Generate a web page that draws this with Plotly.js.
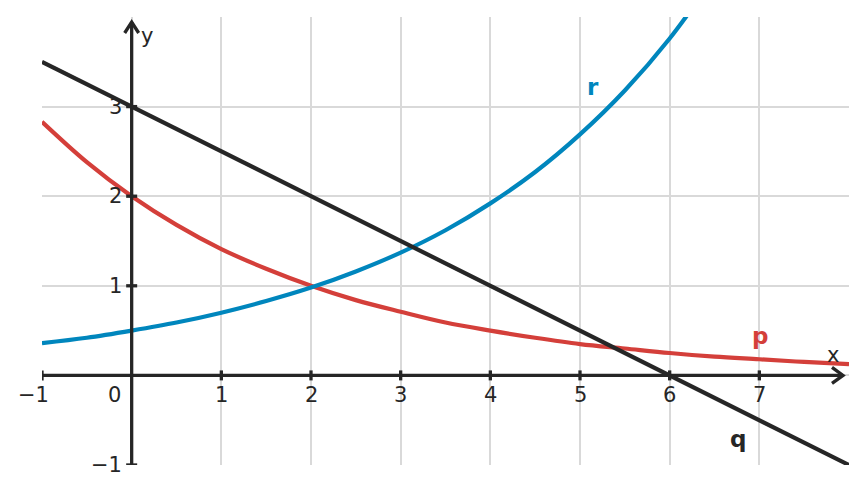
<!DOCTYPE html>
<html><head><meta charset="utf-8">
<script src="https://cdn.plot.ly/plotly-3.0.1.min.js"></script>
<style>body{margin:0;padding:0;background:#fff}#plot{width:867px;height:494px}</style>
</head><body><div id="plot"></div>
<script>
// Data
const xs = [-1,-0.5,0,0.5,1,1.5,2,2.5,3,3.5,4,4.5,5,5.5,6,6.5,7,7.5,8];
const pVals = [2.83,2.38,2.0,1.68,1.41,1.19,1.0,0.84,0.71,0.59,0.5,0.42,0.35,0.30,0.25,0.21,0.18,0.15,0.125];
const qVals = [3.5,3.25,3.0,2.75,2.5,2.25,2.0,1.75,1.5,1.25,1.0,0.75,0.5,0.25,0.0,-0.25,-0.5,-0.75,-1.0];
const rX = [-1,-0.5,0,0.5,1,1.5,2,2.5,3,3.5,4,4.5,5,5.5,6,6.5];
const rVals = [0.36,0.42,0.5,0.59,0.70,0.83,0.98,1.16,1.37,1.62,1.92,2.27,2.69,3.18,3.76,4.45];
const xTicks = [-1,0,1,2,3,4,5,6,7];
const xTickText = ['−1','0','1','2','3','4','5','6','7'];
const yTicks = [-1,1,2,3];
const yTickText = ['−1','1','2','3'];
const curveLabels = [
  {name:'r', x:5.15, y:3.22, color:'#0086BD'},
  {name:'p', x:7.01, y:0.44, color:'#D43F3A'},
  {name:'q', x:6.76, y:-0.71, color:'#262626'}
];

const xRange = [-1, 8], yRange = [-1, 4];
const ink = '#262626';
const font = {family:'DejaVu Sans, sans-serif', size:21, color:ink};

const traces = [
  {x:xs, y:pVals, mode:'lines', line:{color:'#D43F3A', width:4.2, shape:'spline'}, hoverinfo:'skip'},
  {x:rX, y:rVals, mode:'lines', line:{color:'#0086BD', width:4.2, shape:'spline'}, hoverinfo:'skip'},
  {x:xs, y:qVals, mode:'lines', line:{color:ink, width:4.2}, hoverinfo:'skip'}
];

const ux = (xRange[1]-xRange[0])/807, uy = (yRange[1]-yRange[0])/448; // data units per pixel
const shapes = [];
const xEnd = xRange[1] - 6*ux, yEnd = yRange[1] - 5*uy;
shapes.push({type:'line', xref:'x', yref:'y', x0:xRange[0], x1:xEnd, y0:0, y1:0, line:{color:ink, width:3.3}});
shapes.push({type:'line', xref:'x', yref:'y', x0:0, x1:0, y0:yRange[0], y1:yEnd, line:{color:ink, width:3.3}});
shapes.push({type:'path', xref:'x', yref:'y', path:`M ${xEnd-11*ux},${8*uy} L ${xEnd},0 L ${xEnd-11*ux},${-8*uy}`, line:{color:ink, width:3.3}});
shapes.push({type:'path', xref:'x', yref:'y', path:`M ${-7*ux},${yEnd-11*uy} L 0,${yEnd} L ${7*ux},${yEnd-11*uy}`, line:{color:ink, width:3.3}});
xTicks.forEach(t => { if (t !== 0) shapes.push({type:'line', xref:'x', yref:'y', x0:t, x1:t, y0:-5*uy, y1:5*uy, line:{color:ink, width:3.3}}); });
yTicks.forEach(t => shapes.push({type:'line', xref:'x', yref:'y', x0:-5.5*ux, x1:5.5*ux, y0:t, y1:t, line:{color:ink, width:3.3}}));

const annotations = [];
xTicks.forEach((t,i) => annotations.push({x:t, y:0, xref:'x', yref:'y', text:xTickText[i], showarrow:false,
  font:font, xanchor:'center', yanchor:'middle', yshift:-20, xshift: t===0 ? -17 : (t<0 ? -9 : 0)}));
yTicks.forEach((t,i) => annotations.push({x:0, y:t, xref:'x', yref:'y', text:yTickText[i], showarrow:false,
  font:font, xanchor:'right', yanchor:'middle', xshift:-8}));
annotations.push({x:xRange[1], y:0, xref:'x', yref:'y', text:'x', showarrow:false, font:font, xanchor:'center', yanchor:'middle', xshift:-16, yshift:20});
annotations.push({x:0, y:yRange[1], xref:'x', yref:'y', text:'y', showarrow:false, font:font, xanchor:'center', yanchor:'middle', xshift:15, yshift:-19});
curveLabels.forEach(c => annotations.push({x:c.x, y:c.y, xref:'x', yref:'y', text:'<b>'+c.name+'</b>', showarrow:false,
  font:{family:'DejaVu Sans, sans-serif', size:23, color:c.color}, xanchor:'center', yanchor:'middle'}));

const layout = {
  width:867, height:494,
  margin:{l:42, r:18, t:17, b:29},
  paper_bgcolor:'#fff', plot_bgcolor:'#fff',
  showlegend:false,
  xaxis:{range:xRange, tickvals:xTicks, showticklabels:false, showgrid:true, gridcolor:'#d9d9d9', gridwidth:2,
    zeroline:false, showline:false, ticks:''},
  yaxis:{range:yRange, tickvals:[-1,0,1,2,3], showticklabels:false, showgrid:true, gridcolor:'#d9d9d9', gridwidth:2,
    zeroline:false, showline:false, ticks:''},
  shapes:shapes,
  annotations:annotations
};
Plotly.newPlot('plot', traces, layout, {displayModeBar:false, staticPlot:true});
</script></body></html>
